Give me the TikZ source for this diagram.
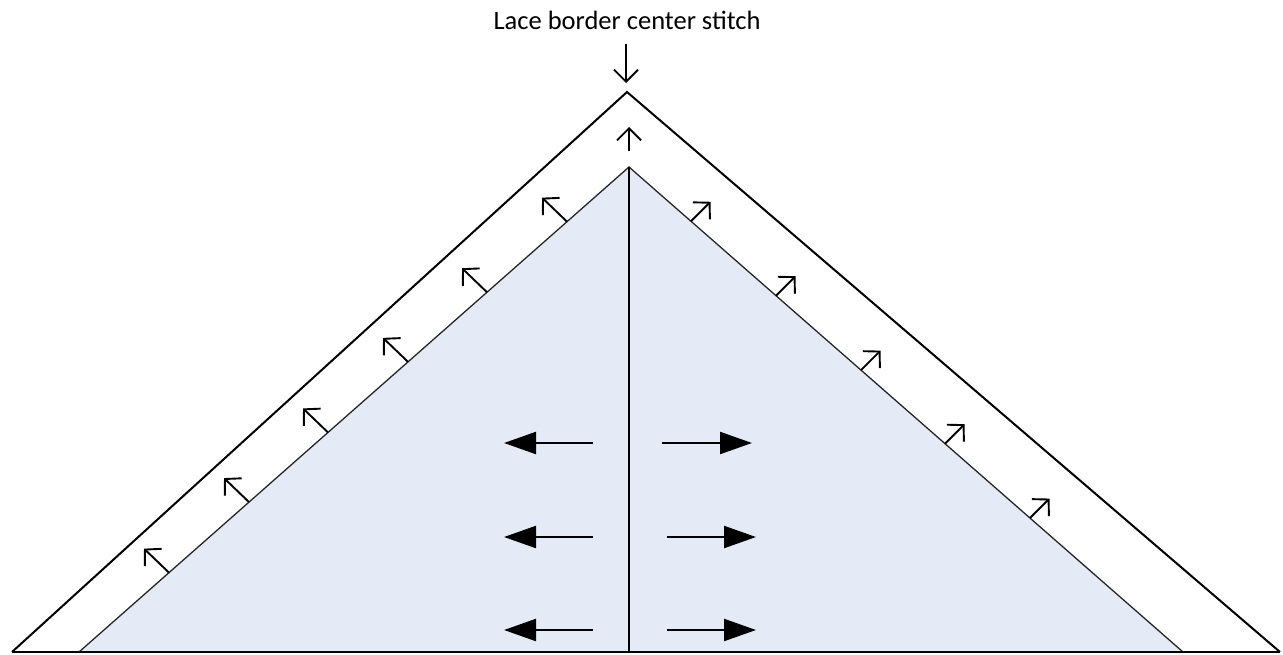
\documentclass[tikz,border=0pt]{standalone}
\usepackage{fontspec}
\setmainfont{Carlito}
\usetikzlibrary{arrows.meta}
\definecolor{panel}{HTML}{E5EBF6}
\tikzset{
  outerline/.style={line width=2pt, black},
  innerline/.style={line width=1.3pt, black!85},
  smallarrow/.style={line width=1.9pt, -{Straight Barb[length=11.5pt,width=24pt,line width=1.9pt]}},
  toparrow/.style={line width=1.8pt, -{Straight Barb[length=12pt,width=24pt,line width=1.8pt]}},
  bigarrow/.style={line width=2.2pt, -{Triangle[length=32pt,width=22pt]}},
  label/.style={font=\fontsize{26.5}{30}\selectfont, inner sep=0pt, anchor=base}
}
\begin{document}
\begin{tikzpicture}[x=1pt,y=-1pt]
\useasboundingbox (0,0) rectangle (1283,654);
% key points
\coordinate (OA) at (627,92);
\coordinate (OL) at (12,652);
\coordinate (OR) at (1280,652);
\coordinate (IA) at (629,167);
\coordinate (IL) at (79,652);
\coordinate (IR) at (1183,652);
\coordinate (IB) at (629,652);
% inner panel
\fill[panel] (IL) -- (IA) -- (IR) -- cycle;
\draw[innerline] (IL) -- (IA) -- (IR);
\draw[outerline] (IA) -- (IB);
% outer triangle
\draw[outerline] (OL) -- (OA) -- (OR);
\draw[outerline] (OL) -- (OR);
% label and top arrows
\node[label] (lab) at (627,29.5) {Lace border center stitch};
\coordinate (dA) at (626,44);
\coordinate (dB) at (626,83);
\draw[toparrow] (dA) -- (dB);
\coordinate (uA) at (629,151);
\coordinate (uB) at (629,127);
\draw[toparrow] (uA) -- (uB);
% left small arrows
\foreach \xb in {169,249,328,408,487,567} {
  \pgfmathsetmacro{\yb}{652-(\xb-79)*0.881818}
  \coordinate (lb) at (\xb,\yb);
  \coordinate (lt) at (\xb-25,\yb-24);
  \draw[smallarrow] (lb) -- (lt);
}
% right small arrows
\foreach \xb in {691,776,861,945,1030} {
  \pgfmathsetmacro{\yb}{167+(\xb-629)*0.875451}
  \coordinate (rb) at (\xb,\yb);
  \coordinate (rt) at (\xb+19.5,\yb-19.5);
  \draw[smallarrow] (rb) -- (rt);
}
% big arrows
\coordinate (a1s) at (593,443); \coordinate (a1e) at (504,443);
\coordinate (a2s) at (593,537); \coordinate (a2e) at (504,537);
\coordinate (a3s) at (593,630); \coordinate (a3e) at (504,630);
\coordinate (b1s) at (662,443); \coordinate (b1e) at (752,443);
\coordinate (b2s) at (667,537); \coordinate (b2e) at (756,537);
\coordinate (b3s) at (667,630); \coordinate (b3e) at (756,630);
\foreach \s/\e in {a1s/a1e,a2s/a2e,a3s/a3e,b1s/b1e,b2s/b2e,b3s/b3e}
  \draw[bigarrow] (\s) -- (\e);
\end{tikzpicture}
\end{document}
